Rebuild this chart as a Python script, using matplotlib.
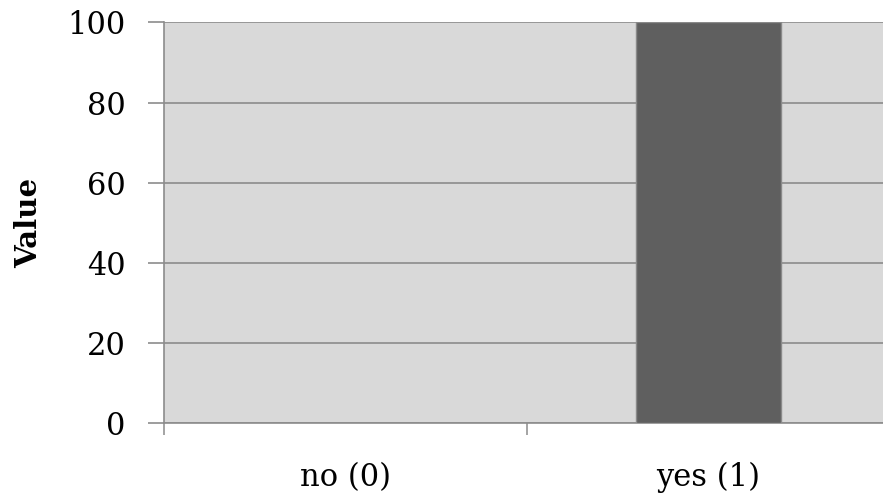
import matplotlib.pyplot as plt
import numpy as np

categories = ['no (0)', 'yes (1)']
values = [0, 100]
y_ticks = [0, 20, 40, 60, 80, 100]

plt.rcParams['font.family'] = ['DejaVu Serif']

fig = plt.figure(figsize=(8.83, 5), dpi=100)
ax = fig.add_axes([164 / 883, 77 / 500, 726 / 883, 400.5 / 500])
ax.set_facecolor('#d9d9d9')

x = np.arange(len(categories))
ax.bar(x, values, width=0.4, color='#5f5f5f', edgecolor='#8a8a8a', linewidth=1, zorder=3)

ax.set_xlim(-0.5, len(categories) - 0.5)
ax.set_ylim(0, 100)
ax.set_yticks(y_ticks)
ax.set_yticklabels([str(v) for v in y_ticks], fontsize=22)
ax.yaxis.grid(True, color='#8c8c8c', linewidth=1.2, zorder=1)
ax.set_axisbelow(True)

# category boundaries as tick marks, labels in the middle
ax.set_xticks(np.arange(-0.5, len(categories), 1.0))
ax.set_xticklabels([])
ax.set_xticks(x, minor=True)
ax.set_xticklabels(categories, minor=True, fontsize=22)
ax.tick_params(axis='x', which='major', length=8.5, width=1.1, color='#8c8c8c', direction='out')
ax.tick_params(axis='x', which='minor', length=0, pad=28)
ax.tick_params(axis='y', length=11.5, width=1.2, color='#8c8c8c', pad=16)

for s in ['top', 'right']:
    ax.spines[s].set_visible(False)
for s in ['left', 'bottom']:
    ax.spines[s].set_color('#8c8c8c')
    ax.spines[s].set_linewidth(1.2)

ax.set_ylabel('Value', fontsize=21, fontweight='bold')
ax.yaxis.set_label_coords(-121 / 726, 0.5)

fig.savefig('out.png', dpi=100)
